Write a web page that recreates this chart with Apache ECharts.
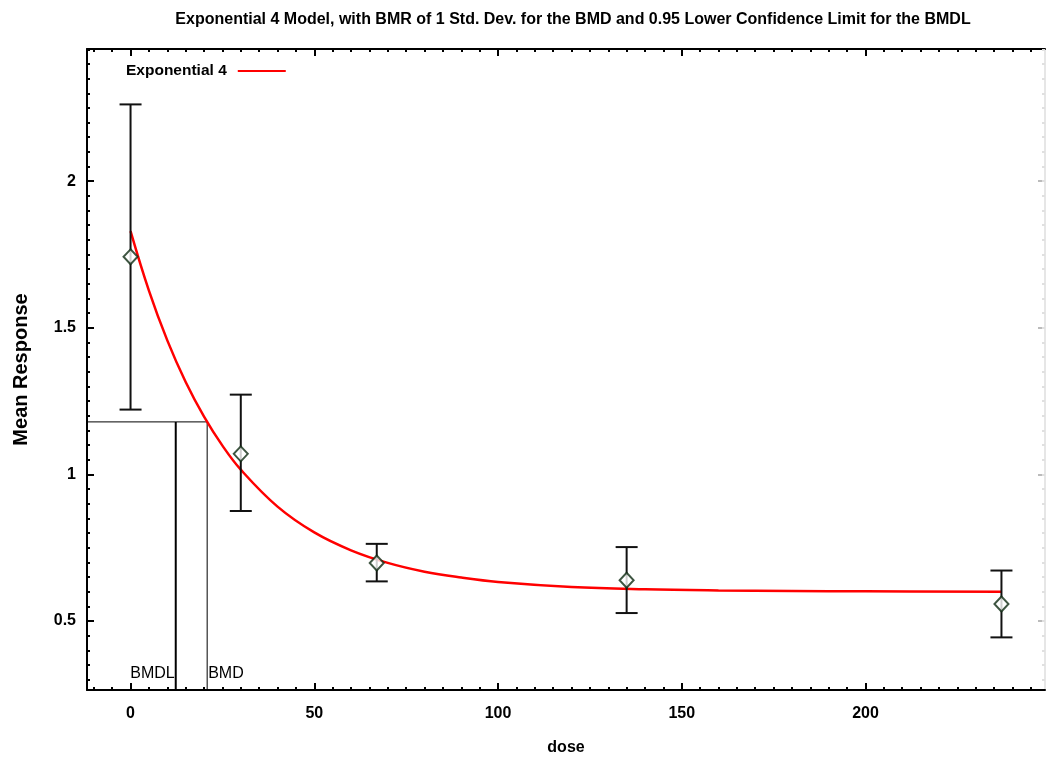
<!DOCTYPE html>
<html>
<head>
<meta charset="utf-8">
<script src="https://cdn.jsdelivr.net/npm/echarts@6/dist/echarts.min.js"></script>
<style>
html,body{margin:0;padding:0;background:#fff;}
#chart{width:1047px;height:761px;}
</style>
</head>
<body>
<div id="chart"></div>
<script>
// ---- data ----
const titleText = 'Exponential 4 Model, with BMR of 1 Std. Dev. for the BMD and 0.95 Lower Confidence Limit for the BMDL';
const doses = [0, 30, 67, 135, 237];
const means = [1.742, 1.07, 0.698, 0.639, 0.558];
const lowerCI = [1.221, 0.875, 0.635, 0.527, 0.444];
const upperCI = [2.262, 1.272, 0.763, 0.752, 0.672];
const fitDose = [0, 5, 10, 15, 20, 25, 30, 40, 50, 60, 70, 80, 90, 100, 120, 140, 160, 180, 200, 237];
const fitResp = [1.83, 1.627, 1.457, 1.315, 1.197, 1.098, 1.016, 0.890, 0.802, 0.741, 0.698, 0.668, 0.648, 0.633, 0.616, 0.608, 0.604, 0.602, 0.601, 0.600];
const bmdl = 12.3;
const bmd = 20.85;
const bmrLevel = 1.179;
const xTicks = [0, 50, 100, 150, 200];
const yTicks = [0.5, 1, 1.5, 2];
const xMin = -11.85, xMax = 248.85;
const yMin = 0.2645, yMax = 2.451;

// minor tick positions
const xMinor = [];
for (let v = -10; v <= 245; v += 5) xMinor.push(v);
const yMinor = [];
for (let k = 6; k <= 49; k++) yMinor.push(+(k * 0.05).toFixed(2));

const FONT = 'Liberation Sans, Arial, sans-serif';
const chart = echarts.init(document.getElementById('chart'), null, {renderer: 'canvas'});

function axisBase(extra) {
  return Object.assign({
    type: 'value', splitLine: {show: false}, axisLabel: {show: false},
    axisLine: {show: false, onZero: false}, axisTick: {show: false}
  }, extra);
}

const xAxes = [
  axisBase({min: xMin, max: xMax, position: 'bottom',
    name: 'dose', nameLocation: 'middle', nameGap: 58,
    nameTextStyle: {fontFamily: FONT, fontSize: 16, fontWeight: 'bold', color: '#000', verticalAlign: 'middle'},
    axisLine: {show: true, onZero: false, lineStyle: {color: '#000', width: 2}},
    axisTick: {show: true, inside: true, length: 7, customValues: xTicks, lineStyle: {color: '#000', width: 2}},
    axisLabel: {show: true, customValues: xTicks, margin: 16, fontFamily: FONT, fontSize: 16, fontWeight: 'bold', color: '#000'}}),
  axisBase({min: xMin, max: xMax, position: 'bottom',
    axisTick: {show: true, inside: true, length: 3, customValues: xMinor, lineStyle: {color: '#000', width: 2}}}),
  axisBase({min: xMin, max: xMax, position: 'top',
    axisLine: {show: true, onZero: false, lineStyle: {color: '#000', width: 2}},
    axisTick: {show: true, inside: true, length: 7, customValues: xTicks, lineStyle: {color: '#000', width: 2}}}),
  axisBase({min: xMin, max: xMax, position: 'top',
    axisTick: {show: true, inside: true, length: 3, customValues: xMinor, lineStyle: {color: '#000', width: 2}}})
];
const yAxes = [
  axisBase({min: yMin, max: yMax, position: 'left',
    name: 'Mean Response', nameLocation: 'middle', nameGap: 66,
    nameTextStyle: {fontFamily: FONT, fontSize: 20, fontWeight: 'bold', color: '#000', verticalAlign: 'middle'},
    axisLine: {show: true, onZero: false, lineStyle: {color: '#000', width: 2}},
    axisTick: {show: true, inside: true, length: 7, customValues: yTicks, lineStyle: {color: '#000', width: 2}},
    axisLabel: {show: true, customValues: yTicks, margin: 11, fontFamily: FONT, fontSize: 16, fontWeight: 'bold', color: '#000'}}),
  axisBase({min: yMin, max: yMax, position: 'left',
    axisTick: {show: true, inside: true, length: 3, customValues: yMinor, lineStyle: {color: '#000', width: 2}}}),
  axisBase({min: yMin, max: yMax, position: 'right',
    axisLine: {show: true, onZero: false, lineStyle: {color: '#e6e6e6', width: 2}},
    axisTick: {show: true, inside: true, length: 7, customValues: yTicks, lineStyle: {color: '#bbb', width: 2}}}),
  axisBase({min: yMin, max: yMax, position: 'right',
    axisTick: {show: true, inside: true, length: 3, customValues: yMinor, lineStyle: {color: '#e0e0e0', width: 2}}})
];

const errData = doses.map((d, i) => [d, lowerCI[i], upperCI[i]]);
const obsData = doses.map((d, i) => [d, means[i]]);
const fitData = fitDose.map((d, i) => [d, fitResp[i]]);

const option = {
  animation: false,
  backgroundColor: '#fff',
  title: {
    text: titleText, left: 568, top: 7, textAlign: 'center',
    textStyle: {fontFamily: FONT, fontSize: 16, fontWeight: 'bold', color: '#000'}
  },
  legend: {
    data: ['Exponential 4'], left: 121, top: 58, align: 'right',
    icon: 'rect', itemWidth: 48, itemHeight: 2, itemGap: 8,
    textStyle: {fontFamily: FONT, fontSize: 15.5, fontWeight: 'bold', color: '#000', padding: [0, 6, 0, 0]}
  },
  grid: {left: 87, right: 2, top: 49, bottom: 62, containLabel: false},
  xAxis: xAxes,
  yAxis: yAxes,
  series: [
    {
      name: 'Exponential 4', type: 'line', data: fitData, smooth: 0.4,
      showSymbol: false, symbol: 'none', color: '#ff0000',
      lineStyle: {color: '#ff0000', width: 2.5}, z: 3
    },
    {
      name: 'bmr', type: 'line', symbol: 'none', silent: true,
      data: [[xMin, bmrLevel], [bmd, bmrLevel]],
      lineStyle: {color: '#000', width: 1}, z: 2
    },
    {
      name: 'bmdlLine', type: 'line', symbol: 'none', silent: true,
      data: [[bmdl, bmrLevel], [bmdl, yMin]],
      lineStyle: {color: '#000', width: 2}, z: 2
    },
    {
      name: 'bmdLine', type: 'line', symbol: 'none', silent: true,
      data: [[bmd, bmrLevel], [bmd, yMin]],
      lineStyle: {color: '#000', width: 1}, z: 2
    },
    {
      name: 'bmdLabels', type: 'custom', silent: true, z: 5,
      data: [[bmdl, yMin], [bmd, yMin]],
      renderItem: function (params, api) {
        const p = api.coord([api.value(0), api.value(1)]);
        const right = params.dataIndex === 0;
        return {
          type: 'text',
          style: {
            text: right ? 'BMDL' : 'BMD', x: right ? p[0] - 1 : p[0] + 1, y: p[1] - 16,
            align: right ? 'right' : 'left', verticalAlign: 'middle',
            font: '16px ' + FONT, fill: '#000'
          }
        };
      }
    },
    {
      name: 'errorbars', type: 'custom', silent: true, z: 4,
      data: errData,
      renderItem: function (params, api) {
        const x = api.value(0);
        const lo = api.coord([x, api.value(1)]);
        const hi = api.coord([x, api.value(2)]);
        const hw = 11;
        const st = {stroke: '#111', lineWidth: 2};
        return {
          type: 'group',
          children: [
            {type: 'line', shape: {x1: lo[0], y1: lo[1], x2: hi[0], y2: hi[1]}, style: st},
            {type: 'line', shape: {x1: lo[0] - hw, y1: lo[1], x2: lo[0] + hw, y2: lo[1]}, style: st},
            {type: 'line', shape: {x1: hi[0] - hw, y1: hi[1], x2: hi[0] + hw, y2: hi[1]}, style: st}
          ]
        };
      }
    },
    {
      name: 'observed', type: 'scatter', data: obsData, symbol: 'diamond',
      symbolSize: [14, 15], z: 6,
      itemStyle: {color: '#fff', borderColor: '#0e2a12', borderWidth: 2}
    }
  ]
};
chart.setOption(option);
</script>
</body>
</html>
